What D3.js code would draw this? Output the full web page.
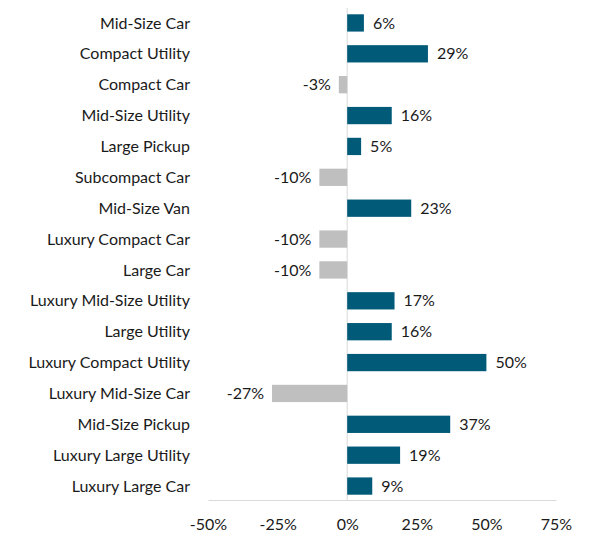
<!DOCTYPE html>
<html lang="en">
<head>
<meta charset="UTF-8">
<title>Segment change</title>
<script src="https://d3js.org/d3.v7.min.js"></script>
<style>
    body { margin: 0; background: #fff; }
    text { font-family: Lato, "Open Sans", sans-serif; fill: #1a1a1a; }
</style>
</head>
<body>
<script>
    var categories = ["Mid-Size Car", "Compact Utility", "Compact Car", "Mid-Size Utility",
        "Large Pickup", "Subcompact Car", "Mid-Size Van", "Luxury Compact Car", "Large Car",
        "Luxury Mid-Size Utility", "Large Utility", "Luxury Compact Utility",
        "Luxury Mid-Size Car", "Mid-Size Pickup", "Luxury Large Utility", "Luxury Large Car"];
    var values = [6, 29, -3, 16, 5, -10, 23, -10, -10, 17, 16, 50, -27, 37, 19, 9];
    var ticks = [-50, -25, 0, 25, 50, 75];

    var w = 589;
    var h = 536;

    var svg = d3.select("body")
        .append("svg")
        .attr("width", w)
        .attr("height", h);

    var x = d3.scaleLinear()
        .domain([-50, 75])
        .range([208, 556]);

    var y = d3.scaleBand()
        .domain(categories)
        .range([7.5, 501.5])
        .paddingInner(0.44)
        .paddingOuter(0.22);

    // zero line
    svg.append("line")
        .attr("x1", x(0)).attr("x2", x(0))
        .attr("y1", 8).attr("y2", 500)
        .attr("stroke", "#d9d9d9");

    // bottom axis
    var xAxis = d3.axisBottom(x)
        .tickValues(ticks)
        .tickSize(0)
        .tickPadding(19)
        .tickFormat(function(d){ return d + "%"; });

    var gx = svg.append("g")
        .attr("transform", "translate(0,500)")
        .call(xAxis);
    gx.select(".domain").attr("stroke", "#d9d9d9");
    gx.selectAll("text").style("font-size", "16px").attr("fill", "#1a1a1a");

    // category labels
    svg.selectAll("text.cat")
        .data(categories)
        .enter()
        .append("text")
        .attr("class", "cat")
        .attr("x", 190)
        .attr("y", function(d){ return y(d) + y.bandwidth() / 2; })
        .attr("dy", "0.35em")
        .attr("text-anchor", "end")
        .style("font-size", "16px")
        .text(function(d){ return d; });

    var rows = categories.map(function(c, i){ return {cat: c, v: values[i]}; });

    svg.selectAll("rect.bar")
        .data(rows)
        .enter()
        .append("rect")
        .attr("class", "bar")
        .attr("x", function(d){ return x(Math.min(0, d.v)); })
        .attr("y", function(d){ return y(d.cat); })
        .attr("width", function(d){ return Math.abs(x(d.v) - x(0)); })
        .attr("height", y.bandwidth())
        .attr("fill", function(d){ return d.v < 0 ? "#bfbfbf" : "#005a78"; });

    svg.selectAll("text.val")
        .data(rows)
        .enter()
        .append("text")
        .attr("class", "val")
        .attr("x", function(d){ return d.v < 0 ? x(d.v) - 8 : x(d.v) + 9; })
        .attr("y", function(d){ return y(d.cat) + y.bandwidth() / 2; })
        .attr("dy", "0.35em")
        .attr("text-anchor", function(d){ return d.v < 0 ? "end" : "start"; })
        .style("font-size", "16px")
        .text(function(d){ return d.v + "%"; });
</script>
</body>
</html>
